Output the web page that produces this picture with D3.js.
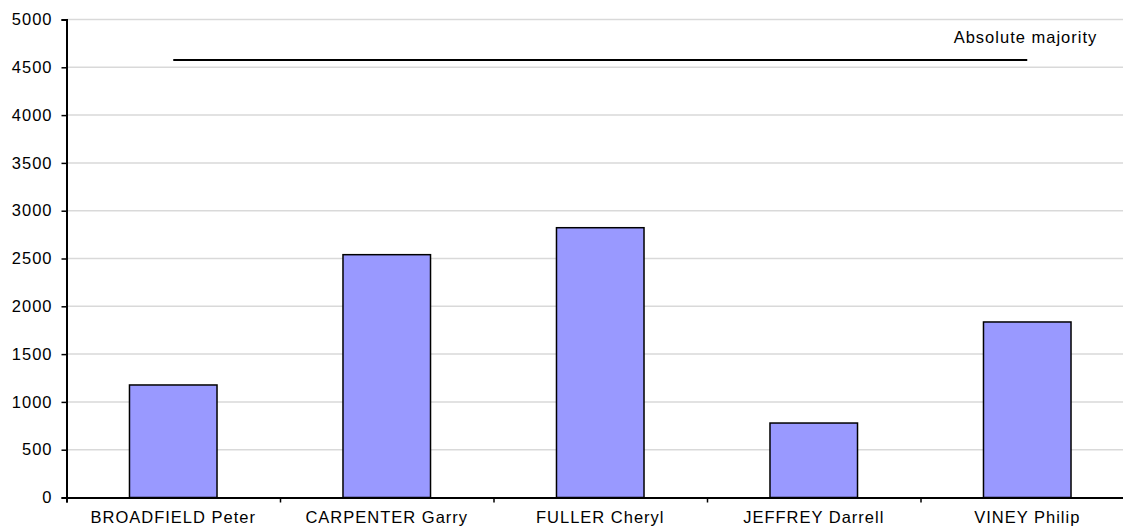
<!DOCTYPE html>
<html>
<head>
<meta charset="utf-8">
<script src="https://cdn.jsdelivr.net/npm/d3@7"></script>
<style>
  body { margin: 0; background: #fff; }
  svg { display: block; font-family: "Liberation Sans", Arial, sans-serif; }
</style>
</head>
<body>
<div class="chart"></div>
<script>
var candidates = ["BROADFIELD Peter", "CARPENTER Garry", "FULLER Cheryl", "JEFFREY Darrell", "VINEY Philip"];
var votes = [1177, 2540, 2822, 779, 1836];
var yTicks = [0, 500, 1000, 1500, 2000, 2500, 3000, 3500, 4000, 4500, 5000];
var majorityLabel = "Absolute majority";

var data = candidates.map((c, i) => ({ name: c, votes: votes[i] }));
var majority = d3.sum(votes) / 2;

var W = 1123, H = 529;
var plotLeft = 66.5, plotRight = 1134, plotTop = 19.5, plotBottom = 497.5;
var fontSize = "16.5px", spacing = "1px";

var svg = d3
  .select(".chart")
  .append("svg")
  .attr("width", W)
  .attr("height", H);

var xScale = d3
  .scaleBand()
  .domain(candidates)
  .range([plotLeft, plotRight])
  .paddingInner(0.59)
  .paddingOuter(0.295);

var xCats = d3.scaleBand().domain(candidates).range([plotLeft, plotRight]).padding(0);

var yScale = d3.scaleLinear().domain([0, 5000]).range([plotBottom, plotTop]);

// gridlines
svg
  .append("g")
  .selectAll("line")
  .data(yTicks.filter((t) => t > 0))
  .join("line")
  .attr("x1", plotLeft)
  .attr("x2", W)
  .attr("y1", (d) => yScale(d))
  .attr("y2", (d) => yScale(d))
  .attr("stroke", "#d9d9d9")
  .attr("stroke-width", 1.5);

// bars
svg
  .append("g")
  .selectAll("rect")
  .data(data)
  .join("rect")
  .attr("x", (d) => xScale(d.name))
  .attr("y", (d) => yScale(d.votes))
  .attr("width", xScale.bandwidth())
  .attr("height", (d) => plotBottom - yScale(d.votes))
  .attr("fill", "#9999ff")
  .attr("stroke", "#000")
  .attr("stroke-width", 1.5);

// majority line
var x1 = xCats(candidates[0]) + xCats.bandwidth() / 2;
var x2 = xCats(candidates[candidates.length - 1]) + xCats.bandwidth() / 2;
svg
  .append("line")
  .attr("x1", x1)
  .attr("x2", x2)
  .attr("y1", yScale(majority))
  .attr("y2", yScale(majority))
  .attr("stroke", "#000")
  .attr("stroke-width", 2);

svg
  .append("text")
  .attr("x", x2 + 70)
  .attr("y", yScale(majority) - 17)
  .attr("text-anchor", "end")
  .attr("font-size", fontSize)
  .attr("letter-spacing", spacing)
  .attr("fill", "#000")
  .text(majorityLabel);

// y axis
var yAxis = svg
  .append("g")
  .attr("transform", `translate(${plotLeft},0)`)
  .call(
    d3.axisLeft(yScale).tickValues(yTicks).tickFormat(d3.format("d")).tickSize(5).tickPadding(9)
  );

// x axis: tick marks at category boundaries
var xEdges = d3.scaleLinear().domain([0, candidates.length]).range([plotLeft, plotRight]);
var xAxis = svg
  .append("g")
  .attr("transform", `translate(0,${plotBottom})`)
  .call(d3.axisBottom(xEdges).ticks(candidates.length).tickFormat("").tickSize(5));

// x labels
var xLabels = svg
  .append("g")
  .attr("transform", `translate(0,${plotBottom})`)
  .call(d3.axisBottom(xCats).tickSize(0).tickPadding(14));
xLabels.select(".domain").remove();

[yAxis, xAxis, xLabels].forEach((g) => {
  g.selectAll(".domain").attr("stroke", "#000").attr("stroke-width", 2);
  g.selectAll(".tick line").attr("stroke", "#000").attr("stroke-width", 1.5);
  g.selectAll("text")
    .attr("font-family", "Liberation Sans, Arial, sans-serif")
    .attr("font-size", fontSize)
    .attr("letter-spacing", spacing)
    .attr("fill", "#000");
});
</script>
</body>
</html>
